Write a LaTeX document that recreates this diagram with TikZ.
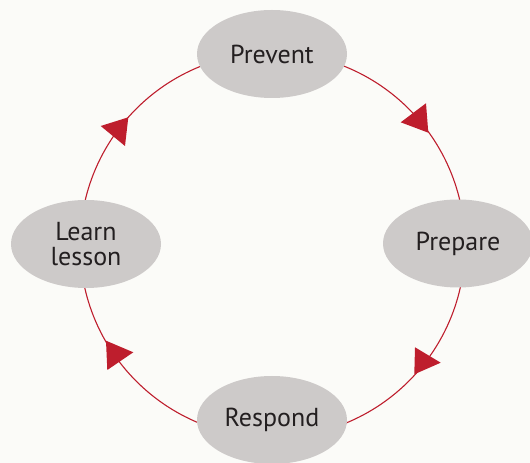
\documentclass[tikz,border=0pt]{standalone}
\usepackage{fontspec}
\setmainfont{PT Sans}
\usetikzlibrary{arrows, positioning, shapes.geometric}
\definecolor{cycleRed}{RGB}{190,30,45}
\definecolor{bubbleGray}{RGB}{205,202,201}
\definecolor{paper}{RGB}{251,251,248}
\definecolor{ink}{RGB}{35,31,32}

\begin{document}
\begin{tikzpicture}[x=1pt, y=1pt]
	\tikzstyle{Stage} = [ellipse, minimum width=150pt, minimum height=88pt, inner sep=0pt, fill=bubbleGray, text=ink, align=center, font=\fontsize{26}{25}\selectfont]
	\tikzstyle{ring} = [draw=cycleRed, line width=1.1pt]
	\tikzstyle{redTip} = [fill=cycleRed]
	
	\fill[paper] (0,0) rectangle (530,463);
	\useasboundingbox (0,0) rectangle (530,463);
	
	\coordinate (ringTop) at (272.5,410.5);
	\coordinate (ringRight) at (465,218);
	\coordinate (ringBottom) at (272.5,25.5);
	\coordinate (ringLeft) at (80,218);
	
	\draw[ring] (ringTop) to[bend left=45] (ringRight) to[bend left=45] (ringBottom)
		to[bend left=45] (ringLeft) to[bend left=45] (ringTop);
	
	\node (prevent) [Stage] at (272,409) {Prevent};
	\node (prepare) [Stage] at (458,219.5) {Prepare};
	\node (respond) [Stage] at (272,43) {Respond};
	\node (learnLesson) [Stage] at (86,219) {Learn\\lesson};
	
	% markers on the ring
	\fill[redTip] (428.3,330.3) -- (400.7,340.7) -- (426,359.7) -- cycle;
	\fill[redTip] (440.7,100.3) -- (415,115.7) -- (414.3,88.7) -- cycle;
	\fill[redTip] (133.3,110.7) -- (106,122.3) -- (107.3,93) -- cycle;
	\fill[redTip] (100.7,337) -- (128.3,345.7) -- (125,317) -- cycle;
\end{tikzpicture}
\end{document}
